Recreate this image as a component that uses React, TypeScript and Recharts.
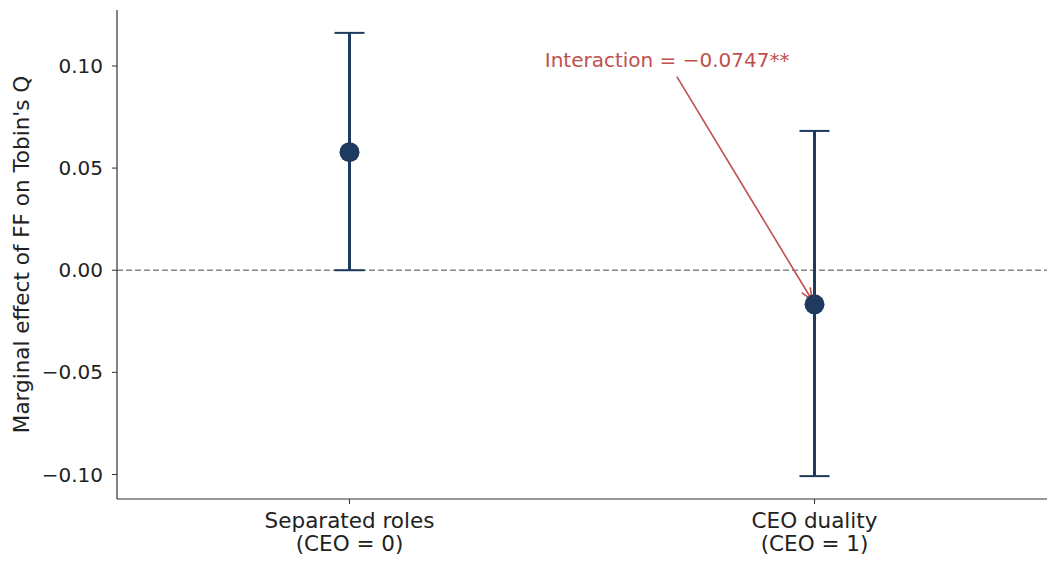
import React from 'react';
import {
  ComposedChart,
  Scatter,
  ErrorBar,
  XAxis,
  YAxis,
  ReferenceLine,
  ReferenceDot,
} from 'recharts';

const categories = ['Separated roles', 'CEO duality'];
const subLabels = ['(CEO = 0)', '(CEO = 1)'];
const positions = [0, 1];
const estimates = [0.0578, -0.0167];
const ciLower = [0.0, -0.1008];
const ciUpper = [0.1162, 0.0682];
const yTicks = [-0.1, -0.05, 0, 0.05, 0.1];
const annotationText = 'Interaction = \u22120.0747**';
const arrowTail = { x: 0.704, y: 0.0948 };
const arrowHead = { x: 0.995, y: -0.0147 };
const textAnchorPoint = { x: 0.683, y: 0.1029 };

const data = positions.map((p, i) => ({
  x: p,
  y: estimates[i],
  err: [estimates[i] - ciLower[i], ciUpper[i] - estimates[i]],
}));

const NAVY = '#1f3a5f';
const RED = '#c0504d';
const FONT = '"DejaVu Sans", sans-serif';

const fmt = (v: number) => {
  const s = Math.abs(v).toFixed(2);
  return v < -1e-9 ? '\u2212' + s : s;
};

const XTick = (props: any) => {
  const { x, y, payload } = props;
  const idx = positions.indexOf(payload.value);
  return (
    <g>
      <line x1={x} x2={x} y1={y - 8} y2={y - 3} stroke="#333" strokeWidth={1} />
      <text x={x} y={y + 21} textAnchor="middle" fontSize={21.5} fill="#222" fontFamily={FONT}>
        {categories[idx]}
      </text>
      <text x={x} y={y + 44} textAnchor="middle" fontSize={21.5} fill="#222" fontFamily={FONT}>
        {subLabels[idx]}
      </text>
    </g>
  );
};

const ArrowShape = (props: any) => {
  const { x1, y1, x2, y2 } = props;
  if ([x1, y1, x2, y2].some((v) => typeof v !== 'number' || isNaN(v))) return null;
  const dx = x2 - x1;
  const dy = y2 - y1;
  const len = Math.sqrt(dx * dx + dy * dy);
  const ux = dx / len;
  const uy = dy / len;
  const hl = 12;
  const hw = 5;
  const bx = x2 - ux * hl;
  const by = y2 - uy * hl;
  const px = -uy;
  const py = ux;
  return (
    <g>
      <line x1={x1} y1={y1} x2={x2} y2={y2} stroke={RED} strokeWidth={1.6} />
      <polyline
        points={`${bx + px * hw},${by + py * hw} ${x2},${y2} ${bx - px * hw},${by - py * hw}`}
        fill="none"
        stroke={RED}
        strokeWidth={1.6}
      />
    </g>
  );
};

const AnnotationText = (props: any) => {
  const { cx, cy } = props;
  return (
    <text x={cx} y={cy + 7} textAnchor="middle" fontSize={20} fill={RED} fontFamily={FONT}>
      {annotationText}
    </text>
  );
};

const Dot = (props: any) => {
  const { cx, cy } = props;
  return <circle cx={cx} cy={cy} r={10} fill={NAVY} />;
};

export default function App() {
  return (
    <div style={{ position: 'absolute', left: 0, top: 0, background: '#fff' }}>
      <ComposedChart
        width={1056}
        height={563}
        data={data}
        margin={{ top: 10, right: 9, left: 0, bottom: 0 }}
      >
        <XAxis
          dataKey="x"
          type="number"
          domain={[-0.5, 1.5]}
          ticks={positions}
          tick={<XTick />}
          tickLine={false}
          axisLine={{ stroke: '#333', strokeWidth: 1.2 }}
          height={64}
          allowDataOverflow
        />
        <YAxis
          type="number"
          domain={[-0.112, 0.1274]}
          ticks={yTicks}
          tickFormatter={fmt}
          width={117}
          allowDataOverflow
          axisLine={{ stroke: '#333', strokeWidth: 1.2 }}
          tickLine={{ stroke: '#333' }}
          tickSize={5}
          tickMargin={9}
          tick={{ fontSize: 20, fill: '#222', fontFamily: FONT }}
          label={{
            value: "Marginal effect of FF on Tobin's Q",
            angle: -90,
            position: 'insideLeft',
            dx: 16,
            style: { fontSize: 21.5, fill: '#222', fontFamily: FONT, textAnchor: 'middle' },
          }}
        />
        <ReferenceLine y={0} stroke="#888" strokeDasharray="6 3" strokeWidth={1.3} />
        <Scatter data={data} dataKey="y" shape={<Dot />} isAnimationActive={false}>
          <ErrorBar dataKey="err" direction="y" width={15} strokeWidth={2} stroke={NAVY} />
          <ErrorBar dataKey="err" direction="y" width={0} strokeWidth={3} stroke={NAVY} />
        </Scatter>
        <ReferenceLine
          segment={[arrowTail, arrowHead]}
          shape={<ArrowShape />}
          ifOverflow="visible"
        />
        <ReferenceDot
          x={textAnchorPoint.x}
          y={textAnchorPoint.y}
          r={0}
          shape={<AnnotationText />}
          ifOverflow="visible"
        />
      </ComposedChart>
    </div>
  );
}
